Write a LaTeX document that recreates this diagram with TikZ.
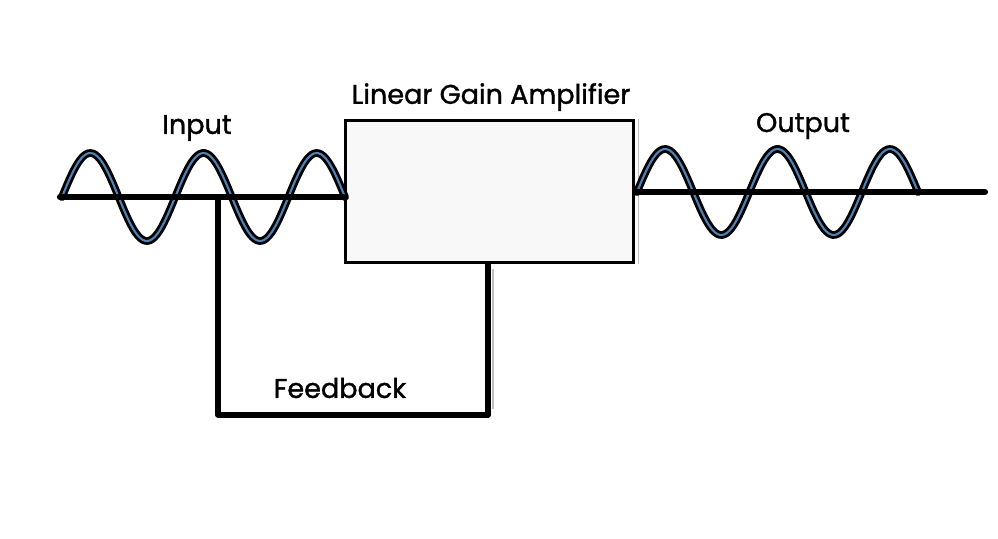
\documentclass[tikz,border=0pt]{standalone}
\usepackage{fontspec}
\setmainfont{Poppins}[FakeBold=1.2]
\definecolor{waveblue}{RGB}{80,130,180}
\definecolor{boxfill}{RGB}{248,248,248}
\tikzset{
  wire/.style={line width=3.6pt, black, line cap=round},
  fbwire/.style={line width=3pt, black, line cap=round, line join=round},
  wavecase/.style={line width=4.4pt, black, line cap=round},
  wavecore/.style={line width=1.2pt, waveblue},
  ampbox/.style={draw, line width=1.7pt, fill=boxfill, minimum width=5.78cm, minimum height=2.86cm, inner sep=0pt},
  lbl/.style={font=\fontsize{15.4}{18}\selectfont, inner sep=0pt}
}
\begin{document}
\begin{tikzpicture}[x=0.02cm,y=-0.02cm]
\useasboundingbox (0,0) rectangle (998,538);
%\draw [help lines,step=50] (0,0) grid (998,538);
\node[ampbox] (amp) at (489.5,191.5) {};
\draw[gray!50, line width=0.6pt] ([xshift=0.07cm]amp.north east) -- ([xshift=0.07cm]amp.south east);
\coordinate (in) at (60,197);
\coordinate (out) at (985,192);
\coordinate (fbA) at (218,415);
\coordinate (fbB) at (488,415);
% waves
\foreach \s in {wavecase,wavecore}
  \draw[\s] plot[domain=62:345,samples=120,smooth] (\x,{197-44*sin((\x-62)/113.2*360)});
\foreach \s in {wavecase,wavecore}
  \draw[\s] plot[domain=637:918,samples=120,smooth] (\x,{192-43*sin((\x-637)/112.4*360)});
% wires
\draw[wire] (in) -- (in -| amp.west);
\draw[wire] (out -| amp.east) -- (out);
\draw[fbwire] (in -| fbA) -- (fbA) -- (fbB) -- (fbB |- amp.south);
\draw[gray!50, line width=0.6pt] ([xshift=0.1cm]fbB |- amp.south) ++(0,5) -- ([xshift=0.1cm,yshift=0.12cm]fbB);
% labels
\node[lbl] (ampl) at (491,97) {Linear Gain Amplifier};
\node[lbl] (inl) at (197,128) {Input};
\node[lbl] (outl) at (803,126) {Output};
\node[lbl] (fbl) at (340,388) {Feedback};
\end{tikzpicture}
\end{document}
